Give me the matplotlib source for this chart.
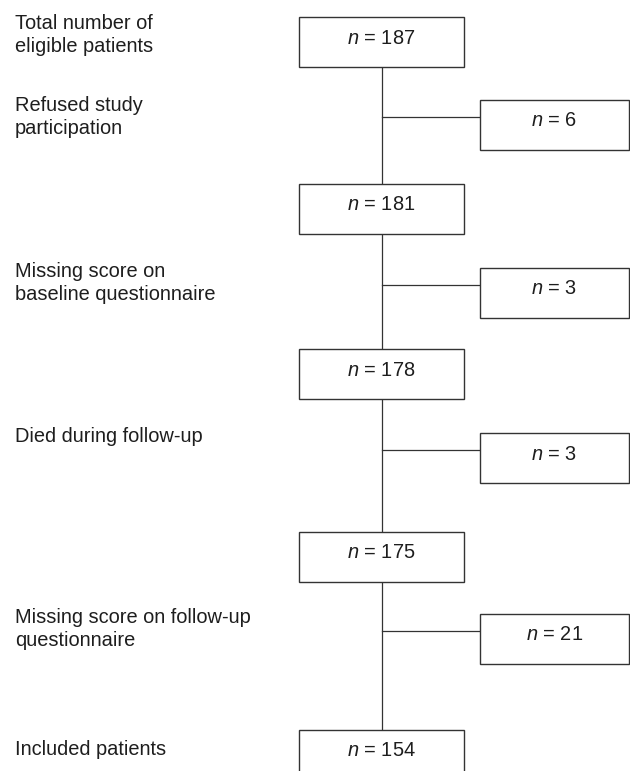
import matplotlib
matplotlib.use("Agg")
import matplotlib.pyplot as plt
from matplotlib.patches import Rectangle

# flowchart data
stage_counts = [187, 181, 178, 175, 154]
excluded_counts = [6, 3, 3, 21]
stage_labels = ["Total number of\neligible patients", None, None, None, "Included patients"]
excluded_labels = [
    "Refused study\nparticipation",
    "Missing score on\nbaseline questionnaire",
    "Died during follow-up",
    "Missing score on follow-up\nquestionnaire",
]

# layout (pixel space, y grows downward)
W, H = 630, 771
main_tops = [17, 184, 349, 532, 730]
side_tops = [100, 268, 433, 614]
main_x0, main_x1 = 299, 464
side_x0, side_x1 = 480, 628.5
box_h = 50
branch_off = 17
text_off = 26.5
label_x = 15
line_gap = 23

plt.rcParams["font.family"] = ["Liberation Sans", "DejaVu Sans"]
plt.rcParams["mathtext.fontset"] = "custom"
plt.rcParams["mathtext.rm"] = "Liberation Sans"
plt.rcParams["mathtext.it"] = "Liberation Sans:italic"

edge = "#333333"
txt = "#1e1e1e"
fs = 14.4

fig = plt.figure(figsize=(W / 100, H / 100), dpi=100)
ax = fig.add_axes([0, 0, 1, 1])
ax.set_xlim(0, W)
ax.set_ylim(H, 0)
ax.axis("off")

cx = (main_x0 + main_x1) / 2


def box(x0, x1, top, value):
    ax.add_patch(Rectangle((x0, top), x1 - x0, box_h, facecolor="white",
                           edgecolor=edge, linewidth=1.0, zorder=3))
    ax.text((x0 + x1) / 2, top + text_off, r"$n$ = %d" % value, ha="center",
            va="baseline", fontsize=fs, color=txt, zorder=4)


def label(top, text):
    base = top + 12
    for i, line in enumerate(text.split("\n")):
        ax.text(label_x, base + i * line_gap, line, ha="left", va="baseline",
                fontsize=fs, color=txt)


# main vertical connector
ax.plot([cx, cx], [main_tops[0] + box_h, main_tops[-1]], color=edge, lw=0.9, zorder=1)

for top, value in zip(main_tops, stage_counts):
    box(main_x0, main_x1, top, value)

for top, value in zip(side_tops, excluded_counts):
    ax.plot([cx, side_x0], [top + branch_off, top + branch_off], color=edge, lw=0.9, zorder=1)
    box(side_x0, side_x1, top, value)

# left-hand descriptions
label(main_tops[0], stage_labels[0])
label_bases = [111, 277, 442, 623]
for b, text in zip(label_bases, excluded_labels):
    label(b - 12, text)
label(743, stage_labels[-1])

fig.savefig("out.png", dpi=100)
